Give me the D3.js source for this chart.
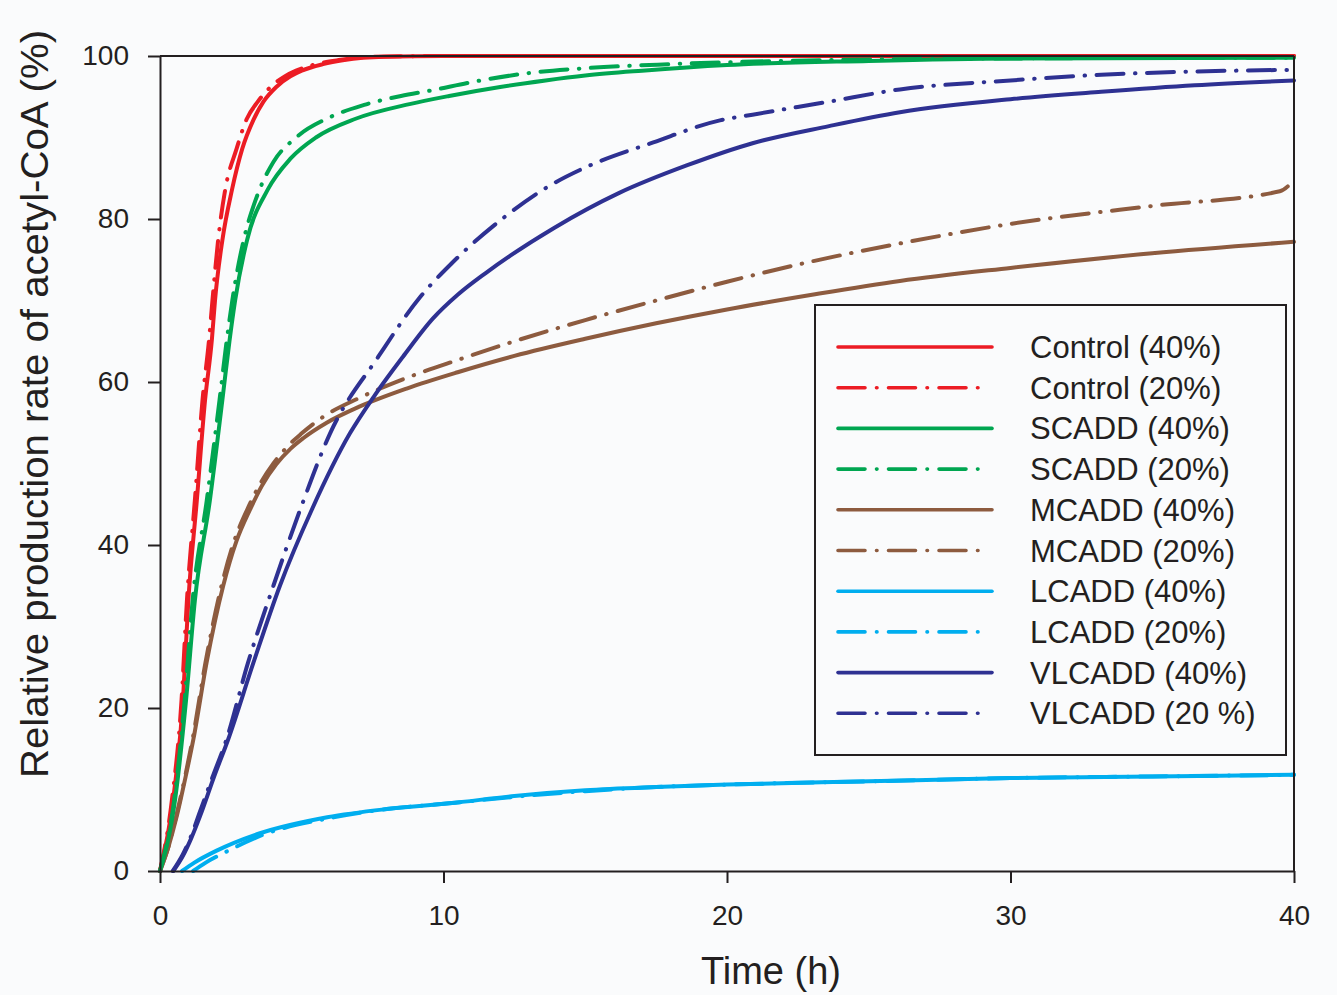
<!DOCTYPE html>
<html>
<head>
<meta charset="utf-8">
<script src="https://cdn.jsdelivr.net/npm/d3@7"></script>
<style>
html,body{margin:0;padding:0;background:#fafbfc;}
svg{display:block;}
text{font-family:"Liberation Sans", Arial, sans-serif; fill:#231f20;}
</style>
</head>
<body>
<svg id="chart" width="1337" height="995"></svg>
<script>
// ---------- data ----------
const xTicks = [0, 10, 20, 30, 40];
const yTicks = [0, 20, 40, 60, 80, 100];
const legendLabels = ["Control (40%)", "Control (20%)", "SCADD (40%)", "SCADD (20%)",
  "MCADD (40%)", "MCADD (20%)", "LCADD (40%)", "LCADD (20%)", "VLCADD (40%)", "VLCADD (20 %)"];
const seriesColors = ["#ec1c24", "#ec1c24", "#00a651", "#00a651", "#8d5b3f", "#8d5b3f",
  "#00aeef", "#00aeef", "#2e3192", "#2e3192"];

const tCtrl40 = [0, 0.46, 0.81, 1.0, 1.3, 1.59, 1.83, 1.94, 2.2, 2.54, 2.9, 3.3, 3.65, 4.1, 4.6, 5.0, 5.75, 6.5, 7.9, 10, 40];
const vCtrl40 = [0, 8.7, 21, 33.2, 45.5, 57.8, 65.2, 70, 77.4, 83.6, 88.6, 92.2, 94.4, 96.2, 97.5, 98.2, 99.0, 99.5, 99.9, 100, 100];
const tCtrl20 = [0, 0.42, 0.76, 0.95, 1.23, 1.5, 1.73, 1.85, 2.05, 2.3, 2.7, 3.05, 3.45, 3.9, 4.4, 4.8, 5.5, 6.3, 7.5, 10, 40];
const vCtrl20 = [0, 8.7, 21, 33.2, 45.5, 57.8, 65.2, 70, 77.4, 83.6, 88.6, 92.2, 94.4, 96.2, 97.5, 98.2, 99.0, 99.5, 99.9, 100, 100];

const tScad40 = [0, 0.53, 0.92, 1.23, 1.76, 2.2, 2.45, 2.65, 3.07, 3.8, 4.6, 5.5, 6.9, 8.8, 10.2, 12, 13.6, 15, 17, 20, 25, 30, 40];
const vScad40 = [0, 8.7, 21, 33.2, 45.5, 57.8, 65, 70, 77.4, 83.6, 87.4, 90.0, 92.3, 94.1, 95.1, 96.2, 97, 97.6, 98.2, 98.9, 99.4, 99.7, 99.8];
const tScad20 = [0, 0.5, 0.87, 1.15, 1.65, 2.1, 2.35, 2.55, 2.95, 3.4, 4.0, 4.8, 6.0, 7.2, 8.5, 9.6, 11, 13, 15, 18, 22, 30, 40];
const vScad20 = [0, 8.7, 21, 33.2, 45.5, 57.8, 65, 70, 77.4, 82.6, 87.0, 90.0, 92.5, 94.0, 95.1, 95.8, 96.8, 97.9, 98.5, 99, 99.4, 99.7, 99.8];

const tMcad40 = [0, 0.3, 0.59, 0.9, 1.18, 1.64, 2.23, 2.7, 3.17, 3.6, 4.1, 4.6, 5.05, 5.88, 7.05, 8.7, 10.5, 12.5, 15, 17.5, 20, 23, 26.1, 30, 35, 40];
const vMcad40 = [0, 3, 6.7, 11.5, 16.2, 25.5, 35, 40.5, 44.3, 47.3, 49.9, 51.8, 53.1, 55.0, 57.0, 59.2, 61.2, 63.2, 65.3, 67.2, 68.9, 70.7, 72.4, 74.0, 75.8, 77.2];
const tMcad20 = [0, 0.3, 0.57, 0.88, 1.15, 1.6, 2.17, 2.62, 3.07, 3.5, 4.0, 4.5, 5.0, 5.7, 7.0, 8.7, 10.5, 12.5, 15, 17.5, 20, 23, 26.1, 30, 35, 39.5, 40];
const vMcad20 = [0, 3, 6.7, 11.5, 16.2, 25.5, 35, 40.5, 44.3, 47.3, 50.0, 52.1, 53.7, 55.6, 58.0, 60.5, 62.7, 65.0, 67.6, 70.0, 72.3, 74.8, 77.0, 79.4, 81.6, 83.4, 84.8];

const tLcad40 = [0.78, 1.2, 2, 3.5, 5.9, 8, 10.2, 12.5, 15, 17.5, 20, 25, 30, 35, 40];
const vLcad40 = [0, 1, 2.5, 4.6, 6.6, 7.6, 8.3, 9.2, 9.9, 10.3, 10.6, 11, 11.4, 11.6, 11.8];
const tLcad20 = [1.17, 1.6, 2.3, 3.6, 6, 8, 10.2, 12.5, 15, 17.5, 20, 25, 30, 35, 40];
const vLcad20 = [0, 1, 2.3, 4.4, 6.5, 7.6, 8.3, 9.1, 9.8, 10.3, 10.6, 11, 11.4, 11.6, 11.8];

const tVlcad40 = [0.47, 0.8, 1.1, 1.41, 1.9, 2.41, 3.29, 4.23, 5.35, 6.7, 7.58, 8.57, 9.63, 10.5, 11.5, 13.9, 16.2, 18.6, 20.9, 23.6, 26.1, 30, 33.2, 36.5, 40];
const vVlcad40 = [0, 1.8, 4, 6.7, 11.5, 16.2, 25.5, 35, 44.3, 53.7, 58.4, 63.1, 67.8, 70.7, 73.4, 78.9, 83.2, 86.6, 89.3, 91.4, 93.1, 94.7, 95.6, 96.4, 97];
const tVlcad20 = [0.45, 0.8, 1.1, 1.38, 1.85, 2.35, 3.1, 4.0, 4.94, 6.0, 7.7, 9.17, 10.3, 12.1, 13.9, 15.05, 17.4, 19.75, 20.9, 23.6, 26.1, 30, 33.2, 36.5, 40];
const vVlcad20 = [0, 2, 4.3, 7, 11.5, 16.2, 25.5, 35, 44.3, 53.7, 63.1, 70.4, 74.6, 80.1, 84.4, 86.4, 89.4, 92.1, 92.8, 94.4, 95.9, 97.0, 97.7, 98.1, 98.3];

const seriesT = [tCtrl40, tCtrl20, tScad40, tScad20, tMcad40, tMcad20, tLcad40, tLcad20, tVlcad40, tVlcad20];
const seriesV = [vCtrl40, vCtrl20, vScad40, vScad20, vMcad40, vMcad20, vLcad40, vLcad20, vVlcad40, vVlcad20];

// ---------- drawing ----------
const svg = d3.select("#chart");
const ink = "#231f20";
const x = d3.scaleLinear().domain([0, 40]).range([160, 1294]);
const y = d3.scaleLinear().domain([0, 100]).range([871, 56]);
const dashDot = "27,11.5,0.5,11.5";

const series = legendLabels.map((name, i) => ({
  name, color: seriesColors[i], dashed: i % 2 === 1,
  pts: seriesT[i].map((t, j) => [t, seriesV[i][j]])
}));

const line = d3.line().x(d => x(d[0])).y(d => y(d[1])).curve(d3.curveMonotoneX);

const drawOrder = [6, 7, 4, 5, 8, 9, 0, 1, 2, 3];
svg.append("g").selectAll("path").data(drawOrder.map(i => series[i])).join("path")
  .attr("d", d => line(d.pts))
  .attr("fill", "none")
  .attr("stroke", d => d.color)
  .attr("stroke-width", 4)
  .attr("stroke-linecap", "round")
  .attr("stroke-linejoin", "round")
  .attr("stroke-dasharray", d => d.dashed ? dashDot : null);

// frame lines (top and right)
svg.append("line").attr("x1", 160).attr("x2", x(40)).attr("y1", y(100)).attr("y2", y(100))
  .attr("stroke", ink).attr("stroke-width", 2);
svg.append("line").attr("x1", x(40)).attr("x2", x(40)).attr("y1", y(100)).attr("y2", y(0))
  .attr("stroke", ink).attr("stroke-width", 2);

// axes
const xAxis = svg.append("g").attr("transform", `translate(0,${y(0)})`)
  .call(d3.axisBottom(x).tickValues(xTicks).tickSize(12).tickPadding(22).tickSizeOuter(0));
const yAxis = svg.append("g").attr("transform", `translate(${x(0)},0)`)
  .call(d3.axisLeft(y).tickValues(yTicks).tickSize(12).tickPadding(19).tickSizeOuter(0));
[xAxis, yAxis].forEach(g => {
  g.selectAll("path, line").attr("stroke", ink).attr("stroke-width", 2);
  g.selectAll("text").attr("font-size", 28).attr("fill", ink)
    .attr("font-family", "Liberation Sans, Arial, sans-serif");
});

// axis titles
svg.append("text").attr("x", 771).attr("y", 984).attr("text-anchor", "middle")
  .attr("font-size", 38).text("Time (h)");
svg.append("text").attr("transform", "translate(48,404) rotate(-90)")
  .attr("text-anchor", "middle").attr("font-size", 38)
  .attr("textLength", 748).attr("lengthAdjust", "spacingAndGlyphs")
  .text("Relative production rate of acetyl-CoA (%)");

// legend
const lg = svg.append("g");
lg.append("rect").attr("x", 815).attr("y", 305).attr("width", 471).attr("height", 450)
  .attr("fill", "#fafbfc").attr("stroke", ink).attr("stroke-width", 2);
const rowY = i => 347 + i * 40.7;
const rows = lg.selectAll("g.row").data(series).join("g").attr("class", "row");
rows.append("line")
  .attr("x1", 838).attr("x2", d => d.dashed ? 980 : 992)
  .attr("y1", (d, i) => rowY(i)).attr("y2", (d, i) => rowY(i))
  .attr("stroke", d => d.color).attr("stroke-width", 3.6).attr("stroke-linecap", "round")
  .attr("stroke-dasharray", d => d.dashed ? dashDot : null);
rows.append("text").attr("x", 1030).attr("y", (d, i) => rowY(i) + 11)
  .attr("font-size", 31).text(d => d.name);
</script>
</body>
</html>
